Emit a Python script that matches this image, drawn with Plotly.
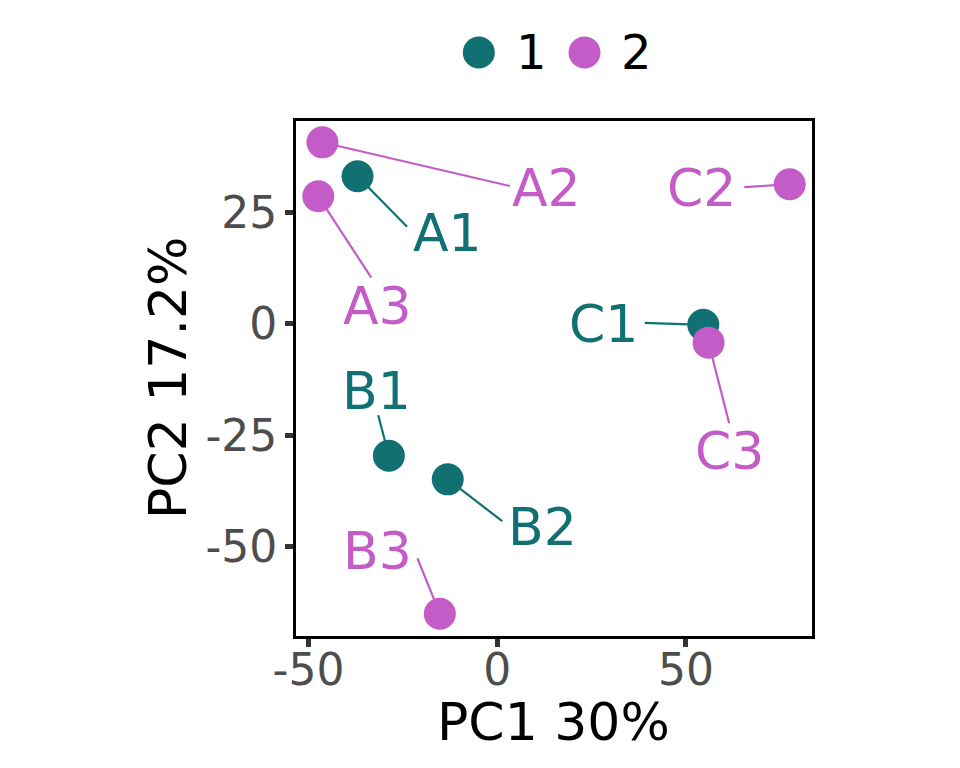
import plotly.graph_objects as go

# ---- data ----
samples = ["A1", "A2", "A3", "B1", "B2", "B3", "C1", "C2", "C3"]
groups = ["1", "2", "2", "1", "1", "2", "1", "2", "2"]
pc1 = [-37.0, -46.3, -47.4, -28.7, -13.1, -15.2, 54.6, 77.5, 56.0]
pc2 = [33.2, 40.8, 28.7, -29.6, -34.9, -65.1, -0.2, 31.4, -4.2]
group_levels = ["1", "2"]
x_tick_vals = [-50, 0, 50]
x_tick_text = ["-50", "0", "50"]
y_tick_vals = [-50, -25, 0, 25]
y_tick_text = ["-50", "-25", "0", "25"]
x_title = "PC1 30%"
y_title = "PC2 17.2%"

# ---- styles / layout ----
FONT = "DejaVu Sans"
colors = {"1": "#107072", "2": "#C45CC8"}
# label centre offsets in pixels (relative to the point)
label_offsets = {
    "A1": (90, 57), "A2": (224, 46), "A3": (59, 110),
    "B1": (-12, -65), "B2": (95, 48), "B3": (-62, -63),
    "C1": (-100, -1), "C2": (-88, 4), "C3": (21, 108),
}
# end of the connector segment in pixels (relative to the point)
segment_ends = {
    "A1": (51, 52), "A2": (189, 44), "A3": (54, 83),
    "B1": (-11, -42), "B2": (56, 43), "B3": (-23, -57),
    "C1": (-60, -2), "C2": (-47, 3), "C3": (21, 82),
}
MARKER = 32

# figure is placed 8px in from the page corner (body margin)
FW, FH = 944, 752
L, R, T, B = 288, 804, 113, 628
W, H = R - L, B - T


def px_x(p):
    return (p - L) / W


def px_y(p):
    return (B - p) / H


fig = go.Figure()

annotations = []
for s, g, x, y in zip(samples, groups, pc1, pc2):
    sx, sy = segment_ends[s]
    annotations.append(dict(
        x=x, y=y, xref="x", yref="y", text="", showarrow=True,
        ax=sx, ay=sy, arrowhead=0, arrowwidth=2.2, arrowcolor=colors[g],
        standoff=MARKER / 2 - 1, startstandoff=0,
    ))
    lx, ly = label_offsets[s]
    annotations.append(dict(
        x=x, y=y, xref="x", yref="y", text=s, showarrow=True,
        ax=lx, ay=ly, arrowwidth=0.1, arrowcolor="rgba(0,0,0,0)",
        font=dict(family=FONT, size=52, color=colors[g]),
    ))

for g in group_levels:
    xs = [x for x, gg in zip(pc1, groups) if gg == g]
    ys = [y for y, gg in zip(pc2, groups) if gg == g]
    fig.add_trace(go.Scatter(
        x=xs, y=ys, mode="markers", name=g, showlegend=False,
        marker=dict(size=MARKER, color=colors[g], line=dict(width=0)),
    ))

# manual legend (large markers)
legend_marker_x = [470.8, 576.5]
legend_text_x = [523.7, 628.3]
legend_y = 44.5
shapes = []
for g, mx, tx in zip(group_levels, legend_marker_x, legend_text_x):
    shapes.append(dict(
        type="circle", xref="paper", yref="paper",
        xsizemode="pixel", ysizemode="pixel",
        xanchor=px_x(mx), yanchor=px_y(legend_y),
        x0=-16, x1=16, y0=-16, y1=16,
        fillcolor=colors[g], line=dict(width=0),
    ))
    annotations.append(dict(
        x=px_x(tx), y=px_y(legend_y), xref="paper", yref="paper",
        text=g, showarrow=False, xanchor="center", yanchor="middle",
        font=dict(family=FONT, size=48, color="black"),
    ))

# axis titles
annotations.append(dict(
    x=px_x(545), y=px_y(714), xref="paper", yref="paper", text=x_title,
    showarrow=False, xanchor="center", yanchor="middle",
    font=dict(family=FONT, size=52, color="black"),
))
annotations.append(dict(
    x=px_x(160), y=px_y(370), xref="paper", yref="paper", text=y_title,
    showarrow=False, xanchor="center", yanchor="middle", textangle=-90,
    font=dict(family=FONT, size=52, color="black"),
))

axis_common = dict(
    showgrid=False, zeroline=False, showline=True, mirror=True,
    linecolor="black", linewidth=2.8,
    ticks="outside", ticklen=8, tickwidth=4.5, tickcolor="#333333",
    tickfont=dict(family=FONT, size=44, color="#4D4D4D"),
)

fig.update_layout(
    width=FW, height=FH,
    margin=dict(l=L, r=FW - R, t=T, b=FH - B),
    plot_bgcolor="white", paper_bgcolor="white",
    xaxis=dict(range=[-53.3, 83.4], tickvals=x_tick_vals, ticktext=x_tick_text,
               ticklabelstandoff=-15, **axis_common),
    yaxis=dict(range=[-70.1, 45.6], tickvals=y_tick_vals, ticktext=y_tick_text,
               ticklabelstandoff=-1, **axis_common),
    annotations=annotations,
    shapes=shapes,
    showlegend=False,
)

fig.write_html("out.html")
